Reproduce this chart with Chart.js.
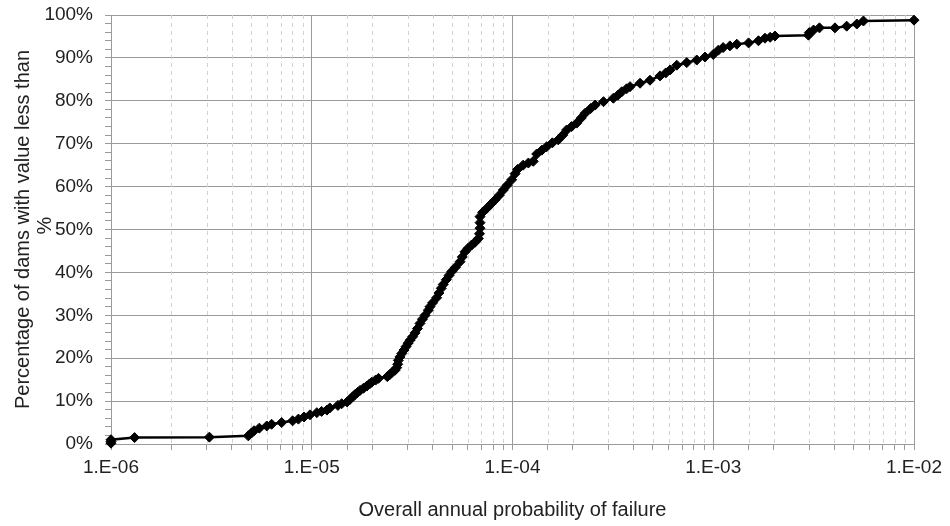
<!DOCTYPE html>
<html>
<head>
<meta charset="utf-8">
<script src="https://cdn.jsdelivr.net/npm/chart.js@4.4.1/dist/chart.umd.min.js"></script>
<style>
html,body{margin:0;padding:0;background:#fff;}
#wrap{width:950px;height:526px;}
</style>
</head>
<body>
<div id="wrap"><canvas id="c" width="950" height="526"></canvas></div>
<script>
// Overall annual probability of failure (x)
const probabilities = [
1e-6,1e-6,1e-6,1.31e-6,3.09e-6,4.83e-6,5.02e-6,5.16e-6,5.48e-6,5.97e-6,6.31e-6,7.08e-6,8.03e-6,8.58e-6,9.15e-6,9.8e-6,
1.06e-5,1.12e-5,1.19e-5,1.23e-5,1.35e-5,1.41e-5,1.5e-5,1.55e-5,1.6e-5,1.64e-5,1.69e-5,1.74e-5,1.81e-5,1.88e-5,1.94e-5,1.99e-5,
2.08e-5,2.15e-5,2.38e-5,2.45e-5,2.5e-5,2.6e-5,2.65e-5,2.68e-5,2.70e-5,2.75e-5,2.81e-5,2.88e-5,2.95e-5,3.02e-5,3.09e-5,3.18e-5,
3.27e-5,3.36e-5,3.46e-5,3.56e-5,3.67e-5,3.81e-5,3.88e-5,4.0e-5,4.19e-5,4.3e-5,4.42e-5,4.52e-5,4.68e-5,4.83e-5,4.98e-5,5.2e-5,
5.48e-5,5.62e-5,5.80e-5,6.0e-5,6.26e-5,6.5e-5,6.76e-5,6.85e-5,6.89e-5,6.89e-5,6.89e-5,7.1e-5,7.44e-5,7.8e-5,8.19e-5,8.6e-5,
9.0e-5,9.4e-5,9.91e-5,1.03e-4,1.06e-4,1.13e-4,1.2e-4,1.27e-4,1.32e-4,1.4e-4,1.48e-4,1.58e-4,1.69e-4,1.78e-4,1.86e-4,1.97e-4,
2.09e-4,2.2e-4,2.30e-4,2.45e-4,2.58e-4,2.84e-4,3.18e-4,3.35e-4,3.50e-4,3.7e-4,3.85e-4,4.32e-4,4.84e-4,5.43e-4,5.8e-4,6.10e-4,
6.58e-4,7.38e-4,8.28e-4,9.1e-4,1.0e-3,1.06e-3,1.12e-3,1.21e-3,1.31e-3,1.5e-3,1.68e-3,1.81e-3,1.92e-3,2.03e-3,2.98e-3,3.01e-3,
3.16e-3,3.38e-3,4.04e-3,4.62e-3,5.19e-3,5.6e-3,1e-2
];
// Percentage of dams with value less than (y)
const percentages = [
0.2,0.6,1.0,1.5,1.6,1.9,2.6,3.1,3.7,4.2,4.6,5.0,5.4,5.8,6.3,6.8,
7.3,7.6,7.9,8.4,9.0,9.4,9.8,10.4,11.0,11.5,12.0,12.5,13.0,13.5,14.0,14.4,
14.9,15.3,15.7,16.2,16.6,17.2,17.8,18.6,19.5,20.3,21.1,21.9,22.7,23.5,24.2,25.0,
25.9,26.9,28.1,29.1,30.0,31.2,32.0,32.9,34.1,35.2,36.3,37.2,38.3,39.3,40.2,41.2,
42.5,43.6,44.8,45.6,46.4,47.0,47.9,49.0,50.3,51.6,53.0,54.0,54.9,55.9,56.9,58.0,
59.2,60.3,61.6,63.0,64.0,65.0,65.5,65.9,67.6,68.5,69.3,70.2,70.9,72.0,73.2,74.0,
74.8,76.0,77.1,78.2,79.0,79.8,80.6,81.3,82.1,82.8,83.3,84.1,84.8,85.8,86.5,87.2,
88.3,88.9,89.5,90.2,90.8,91.8,92.4,92.8,93.2,93.5,94.0,94.6,94.8,95.1,95.3,95.9,
96.5,97.0,97.0,97.4,97.9,98.6,98.8
];
const xAxisTitle = 'Overall annual probability of failure';
const yAxisTitleLines = ['Percentage of dams with value less than', '%'];

const points = probabilities.map((p, i) => ({x: p, y: percentages[i]}));
const isDecade = v => { const l = Math.log10(v); return Math.abs(l - Math.round(l)) < 1e-6; };
const fmtDecade = v => { const e = Math.round(Math.log10(v)); const a = Math.abs(e); return '1.E' + (e < 0 ? '-' : '+') + (a < 10 ? '0' : '') + a; };

const FONT = 'Liberation Sans, Arial, sans-serif';
const TXT = '#222';

const minorGrid = {
  id: 'minorGrid',
  beforeDatasetsDraw(chart) {
    const xs = chart.scales.x, a = chart.chartArea, ctx = chart.ctx;
    ctx.save();
    ctx.strokeStyle = '#d2d2d2';
    ctx.lineWidth = 1;
    ctx.setLineDash([4, 4]);
    xs.ticks.forEach(t => {
      if (isDecade(t.value)) return;
      const px = Math.round(xs.getPixelForValue(t.value)) + 0.5;
      ctx.beginPath(); ctx.moveTo(px, a.top); ctx.lineTo(px, a.bottom); ctx.stroke();
    });
    ctx.restore();
  }
};
const yTitle = {
  id: 'yTitle',
  afterDraw(chart) {
    const a = chart.chartArea, ctx = chart.ctx;
    const cy = (a.top + a.bottom) / 2;
    ctx.save();
    ctx.fillStyle = TXT;
    ctx.font = '20px ' + FONT;
    ctx.textAlign = 'center';
    ctx.textBaseline = 'middle';
    ctx.translate(23, cy);
    ctx.rotate(-Math.PI / 2);
    ctx.fillText(yAxisTitleLines[0], 0, 0);
    ctx.fillText(yAxisTitleLines[1], 4, 22);
    ctx.restore();
  }
};

new Chart(document.getElementById('c'), {
  type: 'scatter',
  data: {
    datasets: [{
      data: points,
      showLine: true,
      clip: false,
      borderColor: '#000',
      backgroundColor: '#000',
      borderWidth: 2.5,
      pointStyle: 'rectRot',
      pointRadius: 5,
      pointBorderWidth: 1,
      pointBorderColor: '#000',
      tension: 0
    }]
  },
  plugins: [minorGrid, yTitle],
  options: {
    responsive: false,
    animation: false,
    layout: {padding: {left: 0, right: 36, top: 15, bottom: 0}},
    plugins: {legend: {display: false}, tooltip: {enabled: false}},
    scales: {
      x: {
        type: 'logarithmic',
        min: 1e-6, max: 1e-2,
        afterFit(s) { s.height = 82; s.paddingLeft = 0; s.paddingRight = 0; },
        border: {color: '#9a9a9a', width: 1},
        grid: {
          color: c => (c.tick && isDecade(c.tick.value)) ? '#9a9a9a' : 'rgba(0,0,0,0)',
          tickColor: '#9a9a9a',
          tickLength: 6,
          lineWidth: 1
        },
        ticks: {
          autoSkip: false, maxRotation: 0, padding: 6,
          color: TXT, font: {family: FONT, size: 19},
          callback: v => isDecade(v) ? fmtDecade(v) : ''
        },
        title: {display: true, text: xAxisTitle, color: TXT, font: {family: FONT, size: 20}, padding: {top: 0, bottom: 4}}
      },
      y: {
        min: 0, max: 100,
        afterFit(s) { s.width = 111; s.paddingTop = 0; s.paddingBottom = 0; },
        border: {color: '#9a9a9a', width: 1},
        grid: {
          color: c => (c.tick && c.tick.value % 10 === 0) ? '#9a9a9a' : 'rgba(0,0,0,0)',
          tickColor: '#9a9a9a',
          tickLength: 6,
          lineWidth: 1
        },
        ticks: {
          stepSize: 2, autoSkip: false, padding: 12,
          color: TXT, font: {family: FONT, size: 19},
          callback: v => (v % 10 === 0) ? v + '%' : ''
        }
      }
    }
  }
});
</script>
</body>
</html>
